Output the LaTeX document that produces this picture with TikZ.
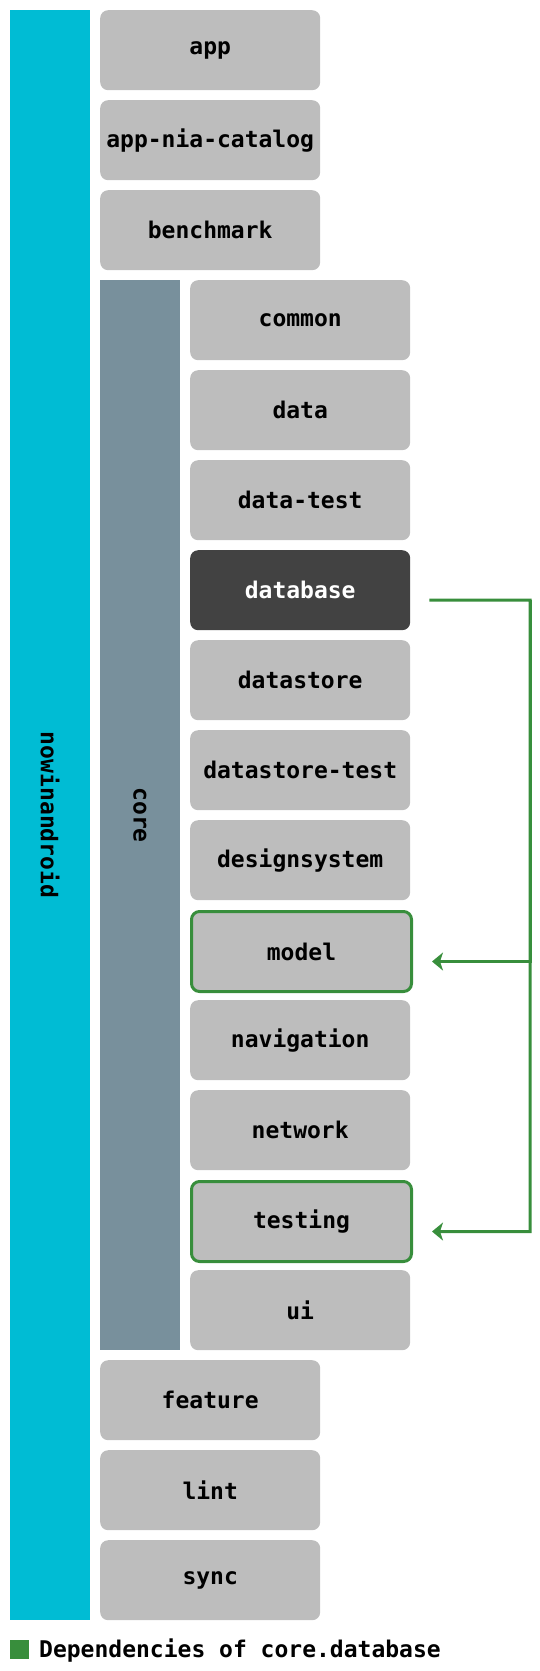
\documentclass[tikz,border=0pt]{standalone}
\usepackage{fontspec}
\setmonofont{DejaVu Sans Mono}
\usepackage{tikz}
\usetikzlibrary{positioning, arrows.meta}

\definecolor{nia}{HTML}{00BCD4}
\definecolor{corebar}{HTML}{78909C}
\definecolor{modgray}{HTML}{BDBDBD}
\definecolor{moddark}{HTML}{424242}
\definecolor{depgreen}{HTML}{388E3C}

\tikzset{
	module/.style={rectangle, rounded corners=8pt, fill=modgray, minimum width=220pt, minimum height=80pt, inner sep=0, anchor=north west, font=\fontsize{23}{27}\selectfont\ttfamily\bfseries},
	selected/.style={fill=moddark, text=white},
	dependency/.style={draw=depgreen, line width=3pt},
	bar/.style={rectangle, minimum height=80pt, inner sep=0, rotate=-90, font=\fontsize{23}{27}\selectfont\ttfamily\bfseries},
	dep/.style={draw=depgreen, line width=3pt, -{Stealth[length=11pt, width=18pt, inset=3pt]}}
}

\begin{document}
\begin{tikzpicture}[x=1pt, y=-1pt]
\useasboundingbox (0,0) rectangle (540,1671);
\node[bar, fill=nia, minimum width=1610pt] (nowinandroid) at (50,815) {nowinandroid};
\node[bar, fill=corebar, minimum width=1070pt] (core) at (140,815) {core};
\foreach \y/\n/\t in {10/app/app,100/catalog/app-nia-catalog,190/benchmark/benchmark,1360/feature/feature,1450/lint/lint,1540/sync/sync} {
	\node[module] (\n) at (100,\y) {\t};
};
\foreach \y/\n/\t in {280/common/common,370/data/data,460/datatest/data-test,640/datastore/datastore,730/datastoretest/datastore-test,820/designsystem/designsystem,1000/navigation/navigation,1090/network/network,1270/ui/ui} {
	\node[module] (\n) at (190,\y) {\t};
};
\node[module, selected] (database) at (190,550) {database};
\node[module, dependency] (model) at (190,910) {model};
\node[module, dependency] (testing) at (190,1180) {testing};
% dependency lines
\coordinate (dbout) at ([xshift=19pt, yshift=-10pt]database.east);
\coordinate (modelin) at ([xshift=19pt, yshift=-10pt]model.east);
\coordinate (testingin) at ([xshift=19pt, yshift=-10pt]testing.east);
\coordinate (bus) at (530,600);
\draw[dep] (dbout) -- (bus) |- (testingin);
\draw[dep] (bus) |- (modelin);
% legend
\node[rectangle, fill=depgreen, minimum size=19pt, inner sep=0, anchor=north west] (key) at (10,1640) {};
\node[anchor=base west, inner sep=0, font=\fontsize{23}{27}\selectfont\ttfamily\bfseries] (keytext) at (39,1657) {Dependencies of core.database};
\end{tikzpicture}
\end{document}
